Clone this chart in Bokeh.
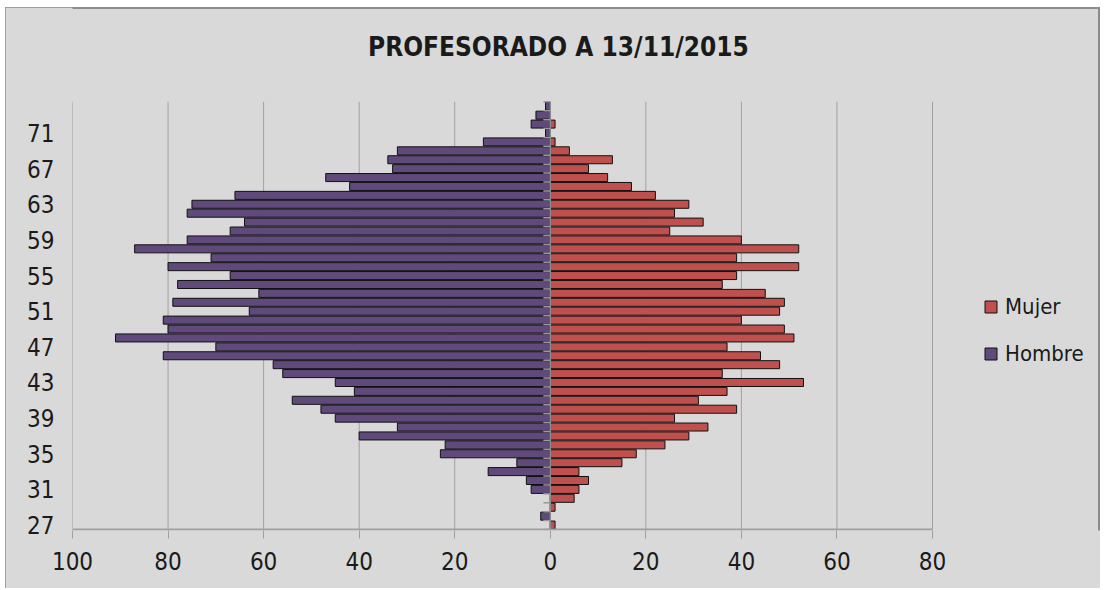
from bokeh.plotting import figure
from bokeh.models import (Range1d, FixedTicker, ColumnDataSource, Legend, LegendItem, Label)
from bokeh.embed import file_html
from bokeh.resources import INLINE

# ---- data ----
ages = list(range(27, 75))
mujer = [1, 0, 1, 5, 6, 8, 6, 15, 18, 24, 29, 33, 26, 39, 31, 37, 53, 36, 48, 44,
         37, 51, 49, 40, 48, 49, 45, 36, 39, 52, 39, 52, 40, 25, 32, 26, 29, 22, 17, 12,
         8, 13, 4, 1, 0, 1, 0, 0]
hombre = [0, 2, 0, 0, 4, 5, 13, 7, 23, 22, 40, 32, 45, 48, 54, 41, 45, 56, 58, 81,
          70, 91, 80, 81, 63, 79, 61, 78, 67, 80, 71, 87, 76, 67, 64, 76, 75, 66, 42, 47,
          33, 34, 32, 14, 1, 4, 3, 1]
y_ticks = list(range(27, 72, 4))
x_ticks = list(range(-100, 81, 20))
title_text = "PROFESORADO  A 13/11/2015"

FONT = "DejaVu Sans Condensed"
BG = "#d9d9d9"
GRID = "#a0a0a0"
RED = "#c0504d"
PURPLE = "#604a7b"

# ---- layout (pixels) ----
W, H = 1095, 581
LEFT, BOTTOM = 67, 58
PLOT_TOP_PX = 94.5          # space above the bar area, inside the frame
TITLE_FROM_PLOT_TOP = 54.5  # title centre above the bar area
TITLE_X_PX = 490            # title centre from the left end of the value axis
frame_w = W - LEFT
axis_px = 860
plot_h_px = 428.5

x_lo, x_hi = x_ticks[0], x_ticks[-1]
px_x = axis_px / (x_hi - x_lo)
x_max = x_hi + (frame_w - axis_px) / px_x
y_lo, y_hi = ages[0] - 0.5, ages[-1] + 0.5
px_y = plot_h_px / (y_hi - y_lo)
y_top = y_hi + PLOT_TOP_PX / px_y
y_bot = y_lo - 1.0 / px_y

p = figure(width=W, height=H, output_backend="svg", toolbar_location=None,
           x_range=Range1d(x_lo, x_max), y_range=Range1d(y_bot, y_top),
           min_border_left=LEFT, min_border_right=0, min_border_top=0, min_border_bottom=BOTTOM,
           background_fill_color=None, border_fill_color=BG, outline_line_color=None,
           title=None)
p.styles = {"margin-left": "5px", "margin-top": "7px", "background-color": BG,
            "outline": "2px solid #8c8c8c", "outline-offset": "-2px"}

# vertical grid lines limited to the bar area
p.segment(x0=x_ticks, x1=x_ticks, y0=[y_lo] * len(x_ticks), y1=[y_hi] * len(x_ticks),
          line_color=GRID, line_width=1)

src_m = ColumnDataSource(dict(y=[a for a, v in zip(ages, mujer) if v != 0],
                              right=[v for v in mujer if v != 0]))
src_h = ColumnDataSource(dict(y=[a for a, v in zip(ages, hombre) if v != 0],
                              left=[-v for v in hombre if v != 0]))

r_h = p.hbar(y="y", left="left", right=0, height=0.9, source=src_h,
             fill_color=PURPLE, line_color="#111111", line_width=1)
r_m = p.hbar(y="y", left=0, right="right", height=0.9, source=src_m,
             fill_color=RED, line_color="#111111", line_width=1)

# category axis line at zero with its tick marks
p.segment(x0=[0], x1=[0], y0=[y_lo], y1=[y_hi], line_color="#8a8a8a", line_width=1.5)
bounds = [a - 0.5 for a in ages] + [ages[-1] + 0.5]
p.segment(x0=[-1.45] * len(bounds), x1=[0] * len(bounds), y0=bounds, y1=bounds,
          line_color="#9a9a9a", line_width=1.5)

# value axis base line, limited to the axis extent
p.segment(x0=[x_lo], x1=[x_hi], y0=[y_lo], y1=[y_lo], line_color=GRID, line_width=2)

# title
p.add_layout(Label(x=x_lo + TITLE_X_PX / px_x, y=y_hi + TITLE_FROM_PLOT_TOP / px_y,
                   text=title_text, text_align="center", text_baseline="middle",
                   text_font=FONT, text_font_size="26px", text_font_style="bold",
                   text_color="#1a1a1a"))

# x axis
xa = p.xaxis[0]
xa.ticker = FixedTicker(ticks=x_ticks)
xa.major_label_overrides = {v: str(abs(v)) for v in x_ticks}
xa.axis_line_color = None
xa.major_tick_line_color = GRID
xa.major_tick_in = 0
xa.major_tick_out = 8
xa.minor_tick_line_color = None
xa.major_label_text_font = FONT
xa.major_label_text_font_size = "24px"
xa.major_label_text_color = "#1a1a1a"
xa.major_label_standoff = 13

# y axis
ya = p.yaxis[0]
ya.ticker = FixedTicker(ticks=y_ticks)
ya.axis_line_color = None
ya.major_tick_line_color = None
ya.minor_tick_line_color = None
ya.major_label_text_font = FONT
ya.major_label_text_font_size = "24px"
ya.major_label_text_color = "#1a1a1a"
ya.major_label_standoff = 12

p.xgrid.grid_line_color = None
p.ygrid.grid_line_color = None

legend = Legend(items=[LegendItem(label="Mujer", renderers=[r_m]),
                       LegendItem(label="Hombre", renderers=[r_h])],
                location=(911, 164), orientation="vertical",
                background_fill_alpha=0, border_line_color=None,
                glyph_width=15, glyph_height=15, label_standoff=7, spacing=22,
                padding=10, margin=0, label_height=20,
                label_text_font=FONT, label_text_font_size="22px", label_text_color="#1a1a1a")
p.add_layout(legend, "center")

open("out.html", "w").write(file_html(p, INLINE))
